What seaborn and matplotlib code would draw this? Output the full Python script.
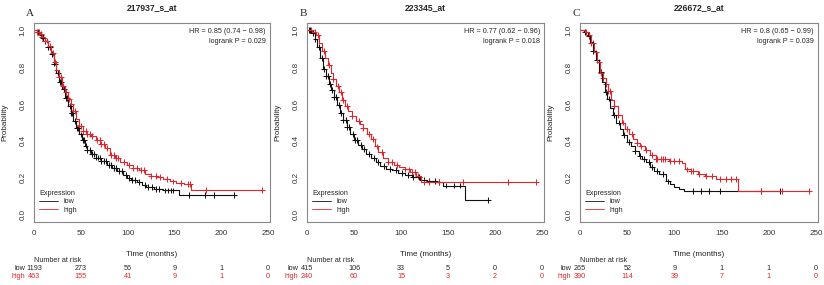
import numpy as np
import pandas as pd
import matplotlib
matplotlib.use("Agg")
import matplotlib.pyplot as plt
import matplotlib.transforms as mtransforms
from matplotlib.lines import Line2D
import seaborn as sns

# ---- data ----
probes = ["217937_s_at", "223345_at", "226672_s_at"]
letters = ["A", "B", "C"]
hr_text = ["HR = 0.85 (0.74 \u2212 0.98)", "HR = 0.77 (0.62 \u2212 0.96)", "HR = 0.8 (0.65 \u2212 0.99)"]
p_text = ["logrank P = 0.029", "logrank P = 0.018", "logrank P = 0.039"]

risk_times = [0, 50, 100, 150, 200, 250]
risk_low = [[1193, 273, 56, 9, 1, 0], [415, 106, 33, 5, 0, 0], [265, 52, 9, 1, 1, 0]]
risk_high = [[463, 155, 41, 9, 1, 0], [240, 60, 15, 3, 2, 0], [390, 114, 39, 7, 1, 0]]

# panel A
a_low_t = [0, 3, 6, 9, 12, 15, 18, 21, 24, 27, 30, 33, 36, 39, 42, 45, 48, 51, 54, 57, 61, 66,
           72, 78, 83, 89, 95, 99, 104, 110, 115, 120, 128, 138, 155, 216]
a_low_s = [1.0, 0.99, 0.975, 0.96, 0.94, 0.91, 0.87, 0.82, 0.77, 0.72, 0.68, 0.635, 0.59, 0.55,
           0.51, 0.47, 0.435, 0.405, 0.375, 0.35, 0.33, 0.31, 0.29, 0.27, 0.255, 0.235, 0.215,
           0.2, 0.19, 0.175, 0.16, 0.148, 0.138, 0.131, 0.108, 0.108]
a_high_t = [0, 3, 6, 9, 12, 15, 18, 21, 24, 27, 30, 33, 36, 39, 42, 45, 48, 52, 56, 61, 66, 71,
            76, 81, 86, 92, 99, 106, 112, 119, 125, 131, 138, 145, 152, 160, 168, 245]
a_high_s = [1.0, 0.99, 0.98, 0.965, 0.945, 0.915, 0.875, 0.83, 0.785, 0.745, 0.7, 0.665, 0.625,
            0.6, 0.56, 0.52, 0.48, 0.455, 0.44, 0.425, 0.405, 0.385, 0.36, 0.325, 0.305, 0.285,
            0.27, 0.255, 0.24, 0.222, 0.212, 0.204, 0.192, 0.18, 0.172, 0.167, 0.135, 0.135]
a_low_cens = [4, 8, 10, 12, 15, 17, 19, 21, 23, 26, 28, 29, 32, 34, 35, 38, 40, 41, 44, 46, 47,
              50, 52, 53, 55, 57, 60, 62, 64, 66, 68, 70, 72, 75, 77, 80, 82, 85, 88, 91, 94, 98,
              101, 105, 108, 112, 118, 122, 126, 130, 134, 140, 143, 146, 148, 165, 183, 192, 214]
a_high_cens = [3, 5, 7, 9, 12, 14, 17, 20, 22, 24, 27, 29, 31, 34, 37, 40, 42, 44, 48, 50, 52,
               55, 57, 60, 62, 67, 70, 72, 75, 78, 82, 85, 88, 90, 96, 101, 106, 110, 114, 117,
               125, 130, 135, 142, 148, 157, 164, 167, 184, 243]

# panel B
b_low_t = [0, 4, 8, 11, 14, 17, 20, 23, 26, 29, 32, 35, 38, 42, 46, 50, 54, 58, 63, 68, 73, 78,
           84, 90, 97, 104, 112, 120, 128, 137, 145, 168, 192]
b_low_s = [1.0, 0.985, 0.955, 0.91, 0.85, 0.79, 0.75, 0.71, 0.675, 0.64, 0.595, 0.55, 0.515,
           0.475, 0.44, 0.405, 0.38, 0.355, 0.33, 0.305, 0.285, 0.265, 0.25, 0.24, 0.225, 0.215,
           0.205, 0.19, 0.182, 0.176, 0.158, 0.077, 0.077]
b_high_t = [0, 5, 10, 13, 16, 19, 22, 25, 28, 31, 34, 37, 40, 44, 48, 52, 56, 60, 64, 68, 72, 76,
            81, 86, 92, 98, 104, 110, 116, 121, 244]
b_high_s = [1.0, 0.99, 0.975, 0.93, 0.89, 0.85, 0.81, 0.77, 0.735, 0.7, 0.665, 0.62, 0.59, 0.56,
            0.535, 0.51, 0.49, 0.47, 0.44, 0.41, 0.37, 0.34, 0.31, 0.285, 0.27, 0.26, 0.245,
            0.23, 0.21, 0.177, 0.177]
b_low_cens = [2, 3, 6, 9, 13, 16, 18, 20, 22, 24, 27, 29, 31, 34, 36, 38, 41, 43, 45, 49, 51,
              53, 57, 61, 66, 71, 76, 82, 88, 95, 101, 107, 113, 119, 124, 130, 136, 140, 148,
              156, 163, 192]
b_high_cens = [4, 8, 12, 18, 23, 28, 33, 36, 38, 43, 48, 55, 60, 66, 70, 74, 80, 86, 90, 96,
               104, 108, 112, 115, 118, 124, 130, 140, 166, 214, 244]

# panel C
c_low_t = [0, 4, 8, 11, 14, 17, 20, 23, 26, 29, 32, 35, 38, 42, 46, 50, 54, 58, 62, 66, 70, 74,
           78, 84, 91, 95, 100, 105, 110, 212]
c_low_s = [1.0, 0.99, 0.97, 0.935, 0.89, 0.84, 0.775, 0.72, 0.665, 0.63, 0.58, 0.54, 0.5, 0.465,
           0.43, 0.395, 0.37, 0.345, 0.32, 0.3, 0.285, 0.26, 0.235, 0.222, 0.18, 0.165, 0.15,
           0.14, 0.127, 0.127]
c_high_t = [0, 5, 9, 12, 15, 18, 21, 24, 27, 30, 33, 36, 40, 44, 48, 52, 56, 60, 64, 69, 74, 80,
            94, 108, 111, 118, 125, 132, 144, 167, 242]
c_high_s = [1.0, 0.99, 0.975, 0.93, 0.88, 0.83, 0.77, 0.74, 0.71, 0.67, 0.62, 0.59, 0.54, 0.5,
            0.465, 0.44, 0.41, 0.39, 0.37, 0.35, 0.325, 0.3, 0.29, 0.28, 0.245, 0.235, 0.222,
            0.21, 0.195, 0.127, 0.127]
c_low_cens = [5, 9, 14, 18, 22, 27, 31, 36, 41, 47, 52, 58, 63, 68, 73, 76, 82, 88, 93, 120,
              128, 137, 148, 192, 212]
c_high_cens = [6, 10, 12, 14, 17, 20, 22, 24, 28, 30, 32, 36, 40, 45, 50, 55, 60, 65, 70, 76,
               80, 82, 86, 88, 90, 95, 100, 105, 113, 118, 120, 126, 133, 140, 148, 155, 160,
               165, 192, 214, 242]

curves = [
    (a_low_t, a_low_s, a_low_cens, a_high_t, a_high_s, a_high_cens),
    (b_low_t, b_low_s, b_low_cens, b_high_t, b_high_s, b_high_cens),
    (c_low_t, c_low_s, c_low_cens, c_high_t, c_high_s, c_high_cens),
]

RED = "#e0262c"
BLACK = "#111111"
palette = {"low": BLACK, "high": RED}

sns.set_style("white")
plt.rcParams["font.family"] = ["Liberation Sans", "DejaVu Sans"]


def step_at(times, surv, c):
    # value of the step curve at censoring time c
    i = np.searchsorted(times, c, side="right") - 1
    return surv[i]


fig = plt.figure(figsize=(8.24, 2.85), dpi=100)
lefts = [34, 307, 580]
widths = [236, 237, 238]

for k in range(3):
    ax = fig.add_axes([lefts[k] / 824, 63 / 285, widths[k] / 824, 199 / 285])
    lt, ls, lc, ht, hs, hc = curves[k]

    lines = pd.concat([
        pd.DataFrame({"time": lt, "surv": ls, "group": "low"}),
        pd.DataFrame({"time": ht, "surv": hs, "group": "high"}),
    ])
    cens = pd.concat([
        pd.DataFrame({"time": lc, "surv": [step_at(lt, ls, c) for c in lc], "group": "low"}),
        pd.DataFrame({"time": hc, "surv": [step_at(ht, hs, c) for c in hc], "group": "high"}),
    ])

    sns.lineplot(data=lines, x="time", y="surv", hue="group", palette=palette,
                 estimator=None, sort=False, drawstyle="steps-post", linewidth=0.8,
                 legend=False, ax=ax)
    sns.scatterplot(data=cens, x="time", y="surv", hue="group", palette=palette,
                    marker="+", s=18, linewidth=0.75, legend=False, ax=ax)

    ax.set_xlim(0, 252)
    ax.set_ylim(-0.04, 1.04)
    ax.set_xticks(risk_times)
    ax.set_yticks([0.0, 0.2, 0.4, 0.6, 0.8, 1.0])
    ax.set_yticklabels(["0.0", "0.2", "0.4", "0.6", "0.8", "1.0"], rotation=90, va="center")
    ax.tick_params(axis="both", direction="out", length=2.5, width=0.6, color="#666666",
                   labelsize=5.8, labelcolor="#333333", pad=3)
    for sp in ax.spines.values():
        sp.set_color("#888888")
        sp.set_linewidth(0.8)

    ax.set_xlabel("Time (months)", fontsize=5.8, color="#222222")
    ax.set_ylabel("Probability", fontsize=5.8, color="#222222")
    ax.xaxis.set_label_coords(0.5, -29 / 199)
    ax.yaxis.set_label_coords(-26 / widths[k], 0.5)

    ax.set_title(probes[k], fontsize=6.2, fontweight="bold", pad=9)
    ax.text(-4 / widths[k], 1 + 10 / 199, letters[k], transform=ax.transAxes,
            family="Liberation Serif", fontsize=8, ha="center", va="center")

    ax.text(0.983, 0.955, hr_text[k], transform=ax.transAxes, ha="right", va="center", fontsize=5.2)
    ax.text(0.983, 0.905, p_text[k], transform=ax.transAxes, ha="right", va="center", fontsize=5.2)

    handles = [Line2D([0], [0], color=BLACK, lw=0.6), Line2D([0], [0], color=RED, lw=0.6)]
    leg = ax.legend(handles, ["low", "high"], title="Expression", loc="lower left",
                    bbox_to_anchor=(0.0, 0.015), frameon=False, fontsize=5.2,
                    title_fontsize=5.2, handlelength=2.6, handletextpad=0.8,
                    labelspacing=0.2, borderaxespad=0.3)
    leg._legend_box.align = "left"

    # number at risk table
    tr = mtransforms.blended_transform_factory(ax.transData, fig.transFigure)
    tra = mtransforms.blended_transform_factory(ax.transAxes, fig.transFigure)
    ax.text(0.0, 1 - 260 / 285, "Number at risk", transform=tra, ha="left", va="center",
            fontsize=5.2)
    ax.text(-9 / widths[k], 1 - 268 / 285, "low", transform=tra, ha="right", va="center",
            fontsize=5.2)
    ax.text(-9 / widths[k], 1 - 277 / 285, "high", transform=tra, ha="right", va="center",
            fontsize=5.2, color=RED)
    for t, nl, nh in zip(risk_times, risk_low[k], risk_high[k]):
        ax.text(t, 1 - 268 / 285, str(nl), transform=tr, ha="center", va="center", fontsize=5.2)
        ax.text(t, 1 - 277 / 285, str(nh), transform=tr, ha="center", va="center", fontsize=5.2,
                color=RED)

fig.savefig("out.png", dpi=100)
